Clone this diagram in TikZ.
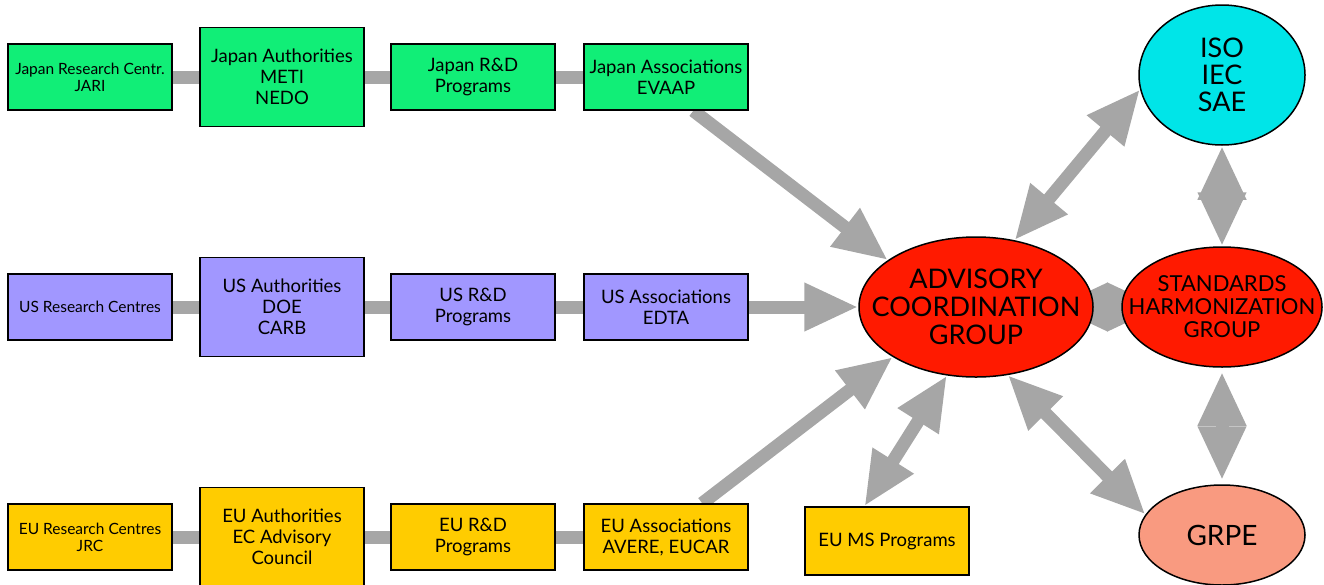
\documentclass[tikz,border=0pt]{standalone}
\usepackage{fontspec}
\setmainfont{Lato}
\usetikzlibrary{shapes.geometric,arrows.meta,backgrounds}
\definecolor{jpgreen}{HTML}{11EE77}
\definecolor{uslilac}{HTML}{A197FF}
\definecolor{eugold}{HTML}{FFCC00}
\definecolor{grpred}{HTML}{FF1A00}
\definecolor{isocyan}{HTML}{00E5E8}
\definecolor{grpesalmon}{HTML}{F99A80}
\definecolor{linkgray}{HTML}{A6A6A6}
\begin{document}
\begin{tikzpicture}[x=1pt,y=-1pt,
  box/.style={draw, line width=1.5pt, minimum width=164pt, minimum height=66pt, inner sep=0pt, align=center, font=\fontsize{18.5}{21}\selectfont},
  bigbox/.style={box, minimum height=99pt},
  small/.style={font=\fontsize{15.5}{17}\selectfont},
  group/.style={draw, ellipse, line width=1.5pt, inner xsep=-50pt, inner ysep=-25pt, align=center},
  bar/.style={draw=linkgray, line width=13pt},
  link/.style={bar, -{Triangle[length=54pt,width=45pt]}},
  twoway/.style={bar, {Triangle[length=54pt,width=45pt]}-{Triangle[length=54pt,width=45pt]}}]
  \useasboundingbox (0,0) rectangle (1324,584);
  \node[box, small, fill=jpgreen] (jpres) at (90,77) {Japan Research Centr.\\JARI};
  \node[bigbox, fill=jpgreen] (jpauth) at (282,77) {Japan Authorities\\METI\\NEDO};
  \node[box, fill=jpgreen] (jprd) at (473,77) {Japan R\&D\\Programs};
  \node[box, fill=jpgreen] (jpassoc) at (666,77) {Japan Associations\\EVAAP};
  \node[box, small, fill=uslilac] (usres) at (90,307) {US Research Centres};
  \node[bigbox, fill=uslilac] (usauth) at (282,307) {US Authorities\\DOE\\CARB};
  \node[box, fill=uslilac] (usrd) at (473,307) {US R\&D\\Programs};
  \node[box, fill=uslilac] (usassoc) at (666,307) {US Associations\\EDTA};
  \node[box, small, fill=eugold] (eures) at (90,537) {EU Research Centres\\JRC};
  \node[bigbox, fill=eugold] (euauth) at (282,537) {EU Authorities\\EC Advisory\\Council};
  \node[box, fill=eugold] (eurd) at (473,537) {EU R\&D\\Programs};
  \node[box, fill=eugold] (euassoc) at (666,537) {EU Associations\\AVERE, EUCAR};
  \node[box, minimum height=68pt, fill=eugold] (eums) at (887,541) {EU MS Programs};
  \node[group, fill=grpred, minimum width=234pt, minimum height=140pt, font=\fontsize{27}{28}\selectfont] (hub) at (976,307) {ADVISORY\\COORDINATION\\GROUP};
  \node[group, fill=grpred, minimum width=200pt, minimum height=120pt, font=\fontsize{22}{23}\selectfont] (std) at (1222,307) {STANDARDS\\HARMONIZATION\\GROUP};
  \node[group, fill=isocyan, minimum width=166pt, minimum height=140pt, font=\fontsize{27}{27}\selectfont] (iso) at (1222,75) {ISO\\IEC\\SAE};
  \node[group, fill=grpesalmon, minimum width=166pt, minimum height=100pt, font=\fontsize{28}{28}\selectfont] (grpe) at (1222,535) {GRPE};
  \begin{pgfonlayer}{background}
    \foreach \a/\b in {jpres/jpauth, jpauth/jprd, jprd/jpassoc, usres/usauth, usauth/usrd, usrd/usassoc, eures/euauth, euauth/eurd, eurd/euassoc}
      \draw[bar] (\a) -- (\b);
    \draw[link] (jpassoc.-51) -- (hub.152);
    \draw[link] (usassoc) -- (hub);
    \draw[link] (euassoc.43) -- (hub.211);
    \draw[twoway] (eums.123) -- (hub.-113);
    \draw[twoway] (hub.60) -- (iso.190);
    \draw[twoway] (hub.-65) -- (grpe.165);
    \draw[twoway] (iso) -- (std);
    \draw[twoway, shorten <=4pt, shorten >=4pt] (std) -- (grpe);
    \draw[twoway, shorten <=-40pt, shorten >=-40pt] (hub) -- (std);
  \end{pgfonlayer}
\end{tikzpicture}
\end{document}
